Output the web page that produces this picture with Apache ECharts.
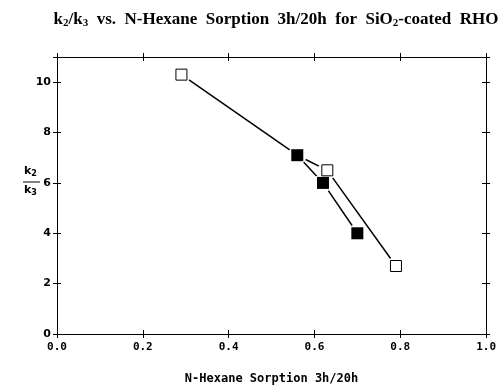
<!DOCTYPE html>
<html>
<head>
<meta charset="utf-8">
<script src="https://cdn.jsdelivr.net/npm/echarts@6/dist/echarts.min.js"></script>
<style>
  html, body { margin: 0; padding: 0; background: #fff; }
  #main { width: 499px; height: 390px; }
</style>
</head>
<body>
<div id="main"></div>
<script>
// open squares: outer curve (the 0.56 point is shared with the filled set)
const openX = [0.29, 0.56, 0.63, 0.79];
const openY = [10.3, 7.1, 6.5, 2.7];
const openShown = [true, false, true, true];
// filled squares
const filledX = [0.56, 0.62, 0.70];
const filledY = [7.1, 6.0, 4.0];

const xTicks = ['0.0', '0.2', '0.4', '0.6', '0.8', '1.0'];
const yTicks = ['0', '2', '4', '6', '8', '10'];

const openData = openX.map((x, i) => [x, openY[i]]);
const filledData = filledX.map((x, i) => [x, filledY[i]]);
const openMarks = openData.filter((d, i) => openShown[i]);

const myChart = echarts.init(document.getElementById('main'));

const monoFont = '"DejaVu Sans Mono", monospace';
const baseX = {
  type: 'value', min: 0, max: 1, interval: 0.2,
  axisLine: { show: true, onZero: false, lineStyle: { color: '#000', width: 1 } },
  splitLine: { show: false },
  axisLabel: { show: false },
  axisTick: { show: true, length: 4, lineStyle: { color: '#000' } }
};
const baseY = {
  type: 'value', min: 0, max: 11, interval: 2,
  axisLine: { show: true, onZero: false, lineStyle: { color: '#000', width: 1 } },
  splitLine: { show: false },
  axisLabel: { show: false },
  axisTick: { show: true, length: 4, lineStyle: { color: '#000' } }
};
const sub = { fontFamily: '"DejaVu Sans", sans-serif', fontWeight: 'bold', fontSize: 8, fill: '#000', padding: [4, 0, 0, 0] };
const kk = { fontFamily: '"DejaVu Sans", sans-serif', fontWeight: 'bold', fontSize: 11, fill: '#000' };

myChart.setOption({
  animation: false,
  backgroundColor: '#fff',
  title: {
    text: '{b|k}{s|2}{b|/k}{s|3}{b|  vs.  N-Hexane  Sorption  3h/20h  for  SiO}{s|2}{b|-coated  RHO}',
    left: 271, top: 6, textAlign: 'center',
    textStyle: {
      rich: {
        b: { fontFamily: '"Liberation Serif", serif', fontWeight: 'bold', fontSize: 17, color: '#000' },
        s: { fontFamily: '"Liberation Serif", serif', fontWeight: 'bold', fontSize: 11, color: '#000', padding: [7, 0, 0, 0] }
      }
    }
  },
  grid: { left: 57, right: 12, top: 57, bottom: 48 },
  xAxis: [
    Object.assign({}, baseX, {
      position: 'bottom',
      axisLabel: {
        show: true, margin: 8, color: '#000', fontFamily: monoFont, fontWeight: 'bold', fontSize: 11,
        formatter: v => xTicks[Math.round(v / 0.2)]
      },
      name: 'N-Hexane Sorption 3h/20h', nameLocation: 'middle', nameGap: 39,
      nameTextStyle: { color: '#000', fontFamily: monoFont, fontWeight: 'bold', fontSize: 12 }
    }),
    Object.assign({}, baseX, { position: 'bottom', axisTick: { show: true, inside: true, length: 4, lineStyle: { color: '#000' } } }),
    Object.assign({}, baseX, { position: 'top' }),
    Object.assign({}, baseX, { position: 'top', axisTick: { show: true, inside: true, length: 4, lineStyle: { color: '#000' } } })
  ],
  yAxis: [
    Object.assign({}, baseY, {
      position: 'left',
      axisLabel: {
        show: true, margin: 6, color: '#000', fontFamily: '"DejaVu Sans", sans-serif', fontWeight: 'bold', fontSize: 11,
        formatter: v => (v % 2 === 0 && v <= 10) ? yTicks[v / 2] : ''
      }
    }),
    Object.assign({}, baseY, { position: 'left', axisTick: { show: true, inside: true, length: 4, lineStyle: { color: '#000' } } }),
    Object.assign({}, baseY, { position: 'right' }),
    Object.assign({}, baseY, { position: 'right', axisTick: { show: true, inside: true, length: 4, lineStyle: { color: '#000' } } })
  ],
  graphic: [
    {
      type: 'group', left: 23, top: 166,
      children: [
        { type: 'text', x: 1, y: 0, style: { text: '{a|k}{b|2}', rich: { a: kk, b: sub } } },
        { type: 'rect', shape: { x: 0, y: 16, width: 17, height: 1 }, style: { fill: '#000' } },
        { type: 'text', x: 1, y: 19, style: { text: '{a|k}{b|3}', rich: { a: kk, b: sub } } }
      ]
    }
  ],
  series: [
    {
      type: 'line', data: openData, symbol: 'none',
      lineStyle: { color: '#000', width: 1.5 }, z: 2
    },
    {
      type: 'line', data: filledData, symbol: 'none',
      lineStyle: { color: '#000', width: 1.5 }, z: 2
    },
    {
      // white halo so the lines stop short of the markers
      type: 'scatter', data: openMarks.concat(filledData), symbol: 'circle', symbolSize: 19,
      itemStyle: { color: '#fff', opacity: 1 }, z: 3, silent: true
    },
    {
      type: 'scatter', data: openMarks, symbol: 'rect', symbolSize: 11,
      itemStyle: { color: '#fff', borderColor: '#000', borderWidth: 1, opacity: 1 }, z: 4
    },
    {
      type: 'scatter', data: filledData, symbol: 'rect', symbolSize: 12,
      itemStyle: { color: '#000', opacity: 1 }, z: 4
    }
  ]
});
</script>
</body>
</html>
